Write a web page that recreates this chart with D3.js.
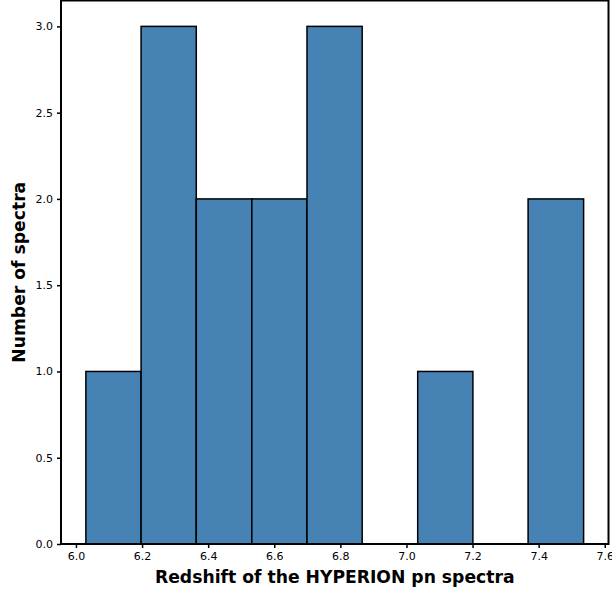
<!DOCTYPE html>
<html>
<head>
<meta charset="utf-8">
<script src="https://cdn.jsdelivr.net/npm/d3@7"></script>
<style>
  body { margin: 0; background: #fff; }
  svg { display: block; font-family: "DejaVu Sans", sans-serif; }
</style>
</head>
<body>
<svg id="chart" width="612" height="593"></svg>
<script>
// Histogramm-Daten
const binEdges = [6.030, 6.197, 6.364, 6.532, 6.699, 6.866, 7.034, 7.201, 7.368, 7.536];
const counts = [1, 3, 2, 2, 3, 0, 1, 0, 2];
const xTicks = [6.0, 6.2, 6.4, 6.6, 6.8, 7.0, 7.2, 7.4, 7.6];
const yTicks = [0, 0.5, 1, 1.5, 2, 2.5, 3];

const svg = d3.select("#chart");
const margin = { left: 61, right: 3.5, top: 0.5, bottom: 49 };
const width = 612 - margin.left - margin.right;
const height = 593 - margin.top - margin.bottom;

const span = binEdges[binEdges.length - 1] - binEdges[0];
const x = d3.scaleLinear()
  .domain([binEdges[0] - span * 0.05, binEdges[binEdges.length - 1] + span * 0.05])
  .range([0, width]);
const y = d3.scaleLinear()
  .domain([0, d3.max(counts) * 1.05])
  .range([height, 0]);

const g = svg.append("g")
  .attr("transform", `translate(${margin.left},${margin.top})`);

const bins = counts.map((c, i) => ({ x0: binEdges[i], x1: binEdges[i + 1], n: c }));

// Balken
g.selectAll("rect.bar")
  .data(bins.filter(d => d.n > 0))
  .enter()
  .append("rect")
  .attr("class", "bar")
  .attr("x", d => x(d.x0))
  .attr("y", d => y(d.n))
  .attr("width", d => x(d.x1) - x(d.x0))
  .attr("height", d => y(0) - y(d.n))
  .attr("fill", "#4682b4")
  .attr("stroke", "#000")
  .attr("stroke-width", 1.5);

// Achsen
const xAxis = g.append("g")
  .attr("transform", `translate(0,${height})`)
  .call(d3.axisBottom(x).tickValues(xTicks).tickFormat(d3.format(".1f")).tickSizeOuter(0).tickSize(4).tickPadding(4));

const yAxis = g.append("g")
  .call(d3.axisLeft(y).tickValues(yTicks).tickFormat(d3.format(".1f")).tickSizeOuter(0).tickSize(4).tickPadding(4));

[xAxis, yAxis].forEach(a => {
  a.select(".domain").remove();
  a.selectAll(".tick line").attr("stroke", "#000").attr("stroke-width", 1.5);
  a.selectAll(".tick text")
    .attr("fill", "#000")
    .style("font-size", "11px")
    .style("font-family", "DejaVu Sans, sans-serif");
});

// Rahmen
g.append("rect")
  .attr("x", 0)
  .attr("y", 0)
  .attr("width", width)
  .attr("height", height)
  .attr("fill", "none")
  .attr("stroke", "#000")
  .attr("stroke-width", 2);

// Beschriftungen
svg.append("text")
  .attr("x", margin.left + width / 2)
  .attr("y", 583)
  .attr("text-anchor", "middle")
  .style("font-size", "17.2px")
  .style("font-weight", "bold")
  .text("Redshift of the HYPERION pn spectra");

svg.append("text")
  .attr("transform", `translate(25,${margin.top + height / 2}) rotate(-90)`)
  .attr("text-anchor", "middle")
  .style("font-size", "17.2px")
  .style("font-weight", "bold")
  .text("Number of spectra");
</script>
</body>
</html>
